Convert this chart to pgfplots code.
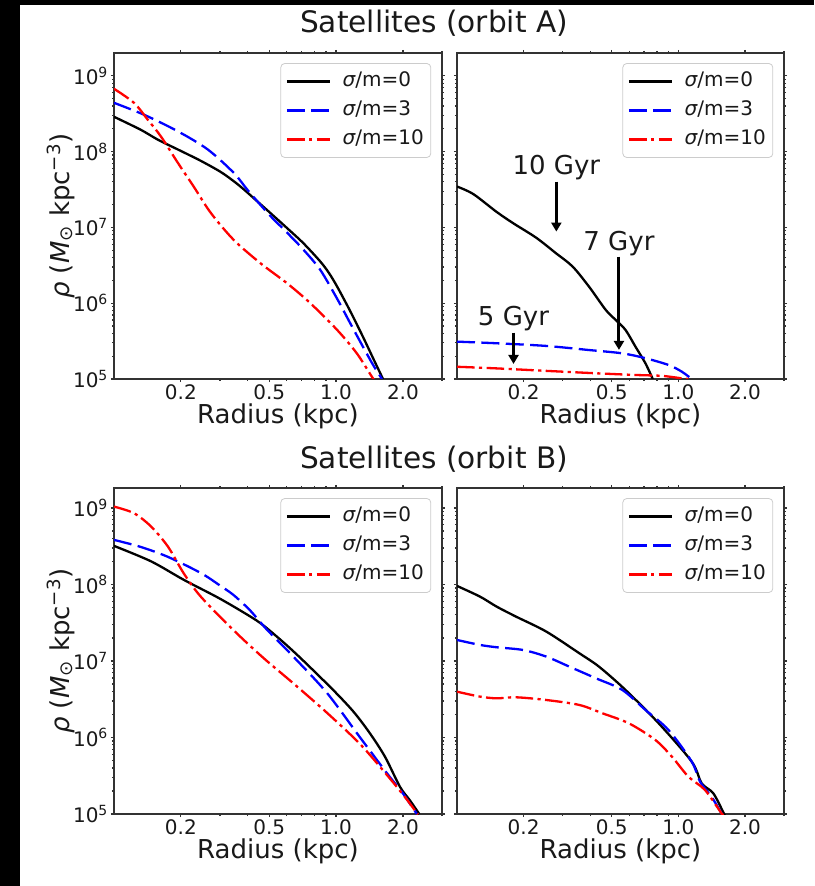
\documentclass[border=0pt]{standalone}
\usepackage{fontspec}
\setmainfont{DejaVu Sans}
\usepackage{pgfplots}
\pgfplotsset{compat=1.18}
\usetikzlibrary{arrows.meta}

\tikzset{
  s0/.style={black, solid, line width=1.15pt, smooth, tension=0.5},
  s3/.style={blue, dash pattern=on 9pt off 3.2pt, line width=1.15pt, smooth, tension=0.5},
  s10/.style={red, dash pattern=on 8.8pt off 2.2pt on 1.6pt off 2.2pt, line width=1.15pt, smooth, tension=0.5},
  gyr/.style={font=\fontsize{13}{15}\selectfont, text=black!90, anchor=base},
  gyrarrow/.style={line width=1.5pt, -{Triangle[length=4.5pt,width=5pt]}},
}
\pgfplotsset{
  legend image code/.code={\draw[#1] (0pt,0pt) -- (21.5pt,0pt);},
  every axis/.append style={
    scale only axis, height=163pt,
    xmin=0.1, xmax=3, ymin=1e5,
    xtick={0.2,0.5,1,2}, xticklabels={0.2,0.5,1.0,2.0},
    minor xtick={0.3,0.4,0.6,0.7,0.8,0.9,3},
    ytick={1e5,1e6,1e7,1e8,1e9},
    minor ytick={2e5,3e5,4e5,5e5,6e5,7e5,8e5,9e5,
                 2e6,3e6,4e6,5e6,6e6,7e6,8e6,9e6,
                 2e7,3e7,4e7,5e7,6e7,7e7,8e7,9e7,
                 2e8,3e8,4e8,5e8,6e8,7e8,8e8,9e8},
    tick align=outside, major tick length=1.6pt, minor tick length=1pt,
    tick style={black!80, line width=0.6pt},
    axis line style={black!80, line width=0.9pt},
    ticklabel style={font=\fontsize{10}{12}\selectfont, text=black!90, inner sep=1pt},
    xlabel style={at={(axis description cs:0.5,-0.138)}, anchor=base,
      font=\fontsize{13}{15}\selectfont, text=black!90},
    legend style={at={(0.967,0.969)}, anchor=north east, draw=black!20,
      rounded corners=2pt, fill=white, inner xsep=2.5pt, inner ysep=3pt,
      font=\fontsize{10}{12}\selectfont, text=black!90, row sep=2.5pt, column sep=4.8pt,
      nodes={inner sep=1pt, text height=7.5pt, text depth=2.5pt}},
    legend cell align=left,
  },
}
\newcommand\ylab{{\itshape ρ} ({\itshape M}\textsubscript{⊙} kpc\textsuperscript{−3})}

\begin{document}
\begin{tikzpicture}
\useasboundingbox (0,0) rectangle (407pt,-443pt);
\fill[black] (0,0) rectangle (10pt,-443pt);
\fill[black] (0,0) rectangle (407pt,-2.5pt);

\node[font=\fontsize{14.8}{17}\selectfont, text=black!90, anchor=base] at (217pt,-16.5pt) {Satellites (orbit A)};
\node[font=\fontsize{14.8}{17}\selectfont, text=black!90, anchor=base] at (217pt,-234pt) {Satellites (orbit B)};

% orbit A, left
\begin{semilogyaxis}[xmode=log, width=164pt, ymax=2e9, at={(57pt,-189.5pt)}, anchor=south west,
  xlabel={Radius (kpc)}, ylabel={\ylab},
  yticklabels={10\textsuperscript{5},10\textsuperscript{6},10\textsuperscript{7},10\textsuperscript{8},10\textsuperscript{9}},
  ylabel style={at={(axis description cs:-0.1616,0.5)}, anchor=center,
    font=\fontsize{13}{15}\selectfont, text=black!90}]
\addplot[s0] coordinates {(0.1,2.88e8) (0.132,1.94e8) (0.158,1.43e8) (0.2,1.02e8) (0.246,7.55e7) (0.302,5.40e7) (0.346,4.07e7) (0.383,3.20e7) (0.44,2.23e7) (0.507,1.54e7) (0.6,9.86e6) (0.712,6.20e6) (0.849,3.55e6) (0.93,2.49e6) (1.012,1.65e6) (1.157,7.90e5) (1.323,3.58e5) (1.467,1.89e5) (1.627,1.0e5)};
\addlegendentry{{\itshape σ}/m=0}
\addplot[s3] coordinates {(0.1,4.40e8) (0.137,3.05e8) (0.194,1.85e8) (0.264,1.07e8) (0.346,5.25e7) (0.4,3.10e7) (0.5,1.47e7) (0.6,8.6e6) (0.712,5.1e6) (0.849,2.75e6) (1.012,1.14e6) (1.157,5.47e5) (1.323,2.65e5) (1.467,1.54e5) (1.61,1.0e5)};
\addlegendentry{{\itshape σ}/m=3}
\addplot[s10] coordinates {(0.1,6.74e8) (0.123,4.40e8) (0.142,2.63e8) (0.163,1.57e8) (0.194,7.10e7) (0.229,3.42e7) (0.273,1.55e7) (0.346,6.84e6) (0.457,3.36e6) (0.602,1.83e6) (0.766,1.0e6) (1.012,4.43e5) (1.24,2.18e5) (1.45,1.07e5) (1.48,1.0e5)};
\addlegendentry{{\itshape σ}/m=10}
\end{semilogyaxis}

% orbit A, right
\begin{semilogyaxis}[xmode=log, width=163.5pt, ymax=2e9, at={(228.5pt,-189.5pt)}, anchor=south west,
  xlabel={Radius (kpc)}, yticklabels={}]
\addplot[s0] coordinates {(0.1,3.46e7) (0.1185,2.75e7) (0.151,1.60e7) (0.179,1.14e7) (0.228,7.3e6) (0.280,4.56e6) (0.333,3.04e6) (0.395,1.65e6) (0.470,8.14e5) (0.521,6.01e5) (0.577,4.44e5) (0.640,2.67e5) (0.710,1.61e5) (0.766,1.0e5)};
\addlegendentry{{\itshape σ}/m=0}
\addplot[s3] coordinates {(0.1,3.11e5) (0.151,2.96e5) (0.253,2.73e5) (0.395,2.41e5) (0.558,2.18e5) (0.710,1.88e5) (0.903,1.53e5) (1.036,1.25e5) (1.149,1.0e5)};
\addlegendentry{{\itshape σ}/m=3}
\addplot[s10] coordinates {(0.1,1.45e5) (0.151,1.38e5) (0.253,1.28e5) (0.424,1.19e5) (0.640,1.13e5) (0.843,1.10e5) (1.036,1.02e5) (1.110,1.0e5)};
\addlegendentry{{\itshape σ}/m=10}
\node[gyr] at (axis cs:0.281,4.93e7) {10 Gyr};
\node[gyr] at (axis cs:0.539,4.94e6) {7 Gyr};
\node[gyr] at (axis cs:0.180,5.01e5) {5 Gyr};
\draw[gyrarrow] (axis cs:0.281,4.03e7) -- (axis cs:0.281,8.81e6);
\draw[gyrarrow] (axis cs:0.539,4.12e6) -- (axis cs:0.539,2.42e5);
\draw[gyrarrow] (axis cs:0.180,4.08e5) -- (axis cs:0.180,1.58e5);
\end{semilogyaxis}

% orbit B, left
\begin{semilogyaxis}[xmode=log, width=164pt, ymax=1.82e9, at={(57pt,-407pt)}, anchor=south west,
  xlabel={Radius (kpc)}, ylabel={\ylab},
  yticklabels={10\textsuperscript{5},10\textsuperscript{6},10\textsuperscript{7},10\textsuperscript{8},10\textsuperscript{9}},
  ylabel style={at={(axis description cs:-0.1616,0.5)}, anchor=center,
    font=\fontsize{13}{15}\selectfont, text=black!90}]
\addplot[s0] coordinates {(0.1,3.19e8) (0.147,2.0e8) (0.206,1.15e8) (0.293,6.76e7) (0.38,4.37e7) (0.457,3.11e7) (0.56,1.91e7) (0.69,1.10e7) (0.97,4.18e6) (1.2,2.16e6) (1.42,1.135e6) (1.66,5.62e5) (1.94,2.27e5) (2.15,1.51e5) (2.37,1.0e5)};
\addlegendentry{{\itshape σ}/m=0}
\addplot[s3] coordinates {(0.1,3.82e8) (0.132,3.09e8) (0.175,2.29e8) (0.246,1.41e8) (0.3,9.68e7) (0.346,7.24e7) (0.41,4.58e7) (0.488,2.57e7) (0.642,1.14e7) (0.912,3.79e6) (1.283,1.0e6) (1.696,3.4e5) (2.0,1.86e5) (2.31,1.0e5)};
\addlegendentry{{\itshape σ}/m=3}
\addplot[s10] coordinates {(0.1,1.04e9) (0.123,8.53e8) (0.147,5.70e8) (0.175,3.12e8) (0.206,1.40e8) (0.246,6.92e7) (0.346,2.51e7) (0.47,1.10e7) (0.642,5.10e6) (0.912,2.09e6) (1.283,8.2e5) (1.696,3.23e5) (2.041,1.67e5) (2.312,1.03e5) (2.33,1.0e5)};
\addlegendentry{{\itshape σ}/m=10}
\end{semilogyaxis}

% orbit B, right
\begin{semilogyaxis}[xmode=log, width=163.5pt, ymax=1.82e9, at={(228.5pt,-407pt)}, anchor=south west,
  xlabel={Radius (kpc)}, yticklabels={}]
\addplot[s0] coordinates {(0.1,9.56e7) (0.127,6.93e7) (0.151,5.13e7) (0.185,3.79e7) (0.253,2.42e7) (0.357,1.26e7) (0.438,8.42e6) (0.577,4.18e6) (0.815,1.53e6) (1.149,4.83e5) (1.274,2.52e5) (1.437,1.87e5) (1.594,1.06e5) (1.61,1.0e5)};
\addlegendentry{{\itshape σ}/m=0}
\addplot[s3] coordinates {(0.1,1.88e7) (0.127,1.62e7) (0.151,1.51e7) (0.199,1.39e7) (0.253,1.14e7) (0.322,8.42e6) (0.424,5.94e6) (0.558,4.18e6) (0.710,2.29e6) (0.903,1.25e6) (1.149,4.83e5) (1.253,2.64e5) (1.412,1.68e5) (1.566,1.02e5) (1.58,1.0e5)};
\addlegendentry{{\itshape σ}/m=3}
\addplot[s10] coordinates {(0.1,3.97e6) (0.127,3.42e6) (0.151,3.25e6) (0.185,3.35e6) (0.253,3.09e6) (0.357,2.66e6) (0.454,2.07e6) (0.598,1.53e6) (0.787,9.28e5) (0.935,5.61e5) (1.110,3.07e5) (1.319,2.06e5) (1.566,1.02e5) (1.58,1.0e5)};
\addlegendentry{{\itshape σ}/m=10}
\end{semilogyaxis}
\end{tikzpicture}
\end{document}
